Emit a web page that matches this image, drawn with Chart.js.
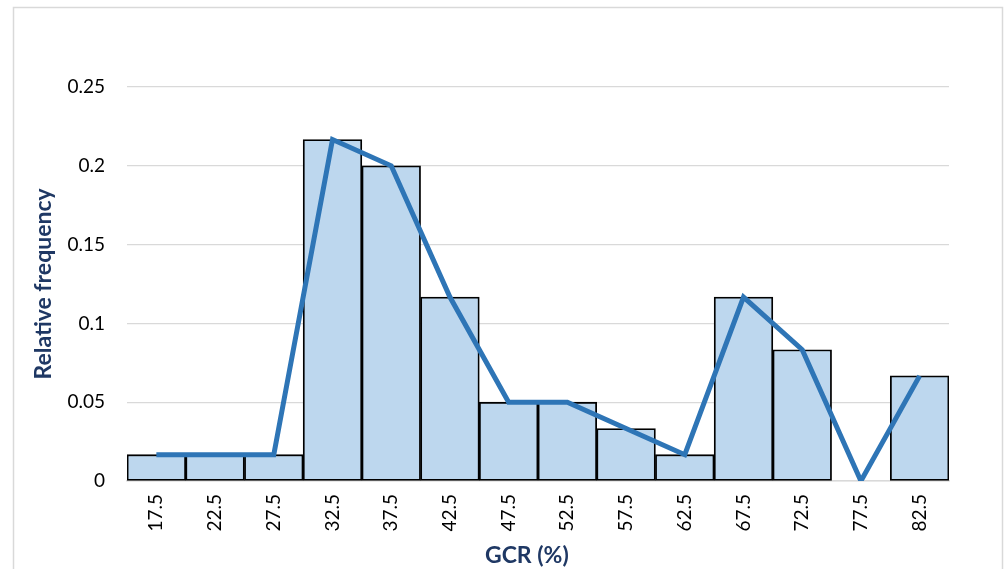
<!DOCTYPE html>
<html>
<head>
<meta charset="utf-8">
<script src="https://cdn.jsdelivr.net/npm/chart.js@4/dist/chart.umd.min.js"></script>
<style>
  html, body { margin: 0; padding: 0; background: #fff; }
  #wrap { width: 1004px; height: 569px; position: relative; }
</style>
</head>
<body>
<div id="wrap"><canvas id="c" width="1004" height="569"></canvas></div>
<script>
const categories = ["17.5","22.5","27.5","32.5","37.5","42.5","47.5","52.5","57.5","62.5","67.5","72.5","77.5","82.5"];
const barValues = [0.0167,0.0167,0.0167,0.2167,0.2,0.1167,0.05,0.05,0.0333,0.0167,0.1167,0.0833,0,0.0667];
const lineValues = [0.0167,0.0167,0.0167,0.2167,0.2,0.1167,0.05,0.05,0.0333,0.0167,0.1167,0.0833,0,0.0667];
const yTicks = [0, 0.05, 0.1, 0.15, 0.2, 0.25];

const FONT = "Lato, 'Open Sans', sans-serif";

const borderPlugin = {
  id: 'outerBorder',
  beforeDraw(chart) {
    const ctx = chart.ctx;
    ctx.save();
    ctx.fillStyle = '#ffffff';
    ctx.fillRect(0, 0, chart.width, chart.height);
    ctx.strokeStyle = '#d9d9d9';
    ctx.lineWidth = 1.5;
    ctx.strokeRect(13.5, 7.5, 989, 600);
    ctx.restore();
  }
};

new Chart(document.getElementById('c'), {
  type: 'bar',
  data: {
    labels: categories,
    datasets: [
      {
        type: 'line',
        data: lineValues,
        borderColor: '#2e75b6',
        borderWidth: 5,
        pointRadius: 0,
        tension: 0,
        fill: false,
        order: 0
      },
      {
        type: 'bar',
        data: barValues,
        backgroundColor: '#bdd7ee',
        borderColor: '#000000',
        borderWidth: 1.8,
        borderSkipped: false,
        barPercentage: 1,
        categoryPercentage: 1,
        order: 1
      }
    ]
  },
  options: {
    responsive: false,
    animation: false,
    devicePixelRatio: 1,
    layout: { padding: { left: 0, top: 87, right: 55, bottom: 0 } },
    plugins: { legend: { display: false }, tooltip: { enabled: false } },
    scales: {
      x: {
        grid: { display: false, drawTicks: false },
        border: { display: true, color: '#d9d9d9', width: 1.5 },
        ticks: {
          color: '#000',
          font: { family: FONT, size: 19 },
          minRotation: 90, maxRotation: 90,
          padding: 13,
          autoSkip: false
        },
        title: {
          display: true,
          text: 'GCR (%)\u00a0\u00a0\u00a0\u00a0',
          color: '#1f3864',
          font: { family: FONT, size: 23, weight: 'bold' },
          padding: { top: 3, bottom: 0 }
        },
        afterFit(s) { s.height = 569 - 481; }
      },
      y: {
        min: 0, max: 0.25,
        afterBuildTicks(s) { s.ticks = yTicks.map(v => ({ value: v })); },
        grid: { color: '#d9d9d9', lineWidth: 1.2, drawTicks: false },
        border: { display: false },
        ticks: {
          color: '#000',
          font: { family: FONT, size: 19 },
          padding: 22,
          callback: v => String(v)
        },
        title: {
          display: true,
          text: 'Relative frequency',
          color: '#1f3864',
          font: { family: FONT, size: 23, weight: 'bold' },
          padding: { top: 30, bottom: 0 }
        },
        afterFit(s) { s.width = 127; }
      }
    }
  },
  plugins: [borderPlugin]
});
</script>
</body>
</html>
